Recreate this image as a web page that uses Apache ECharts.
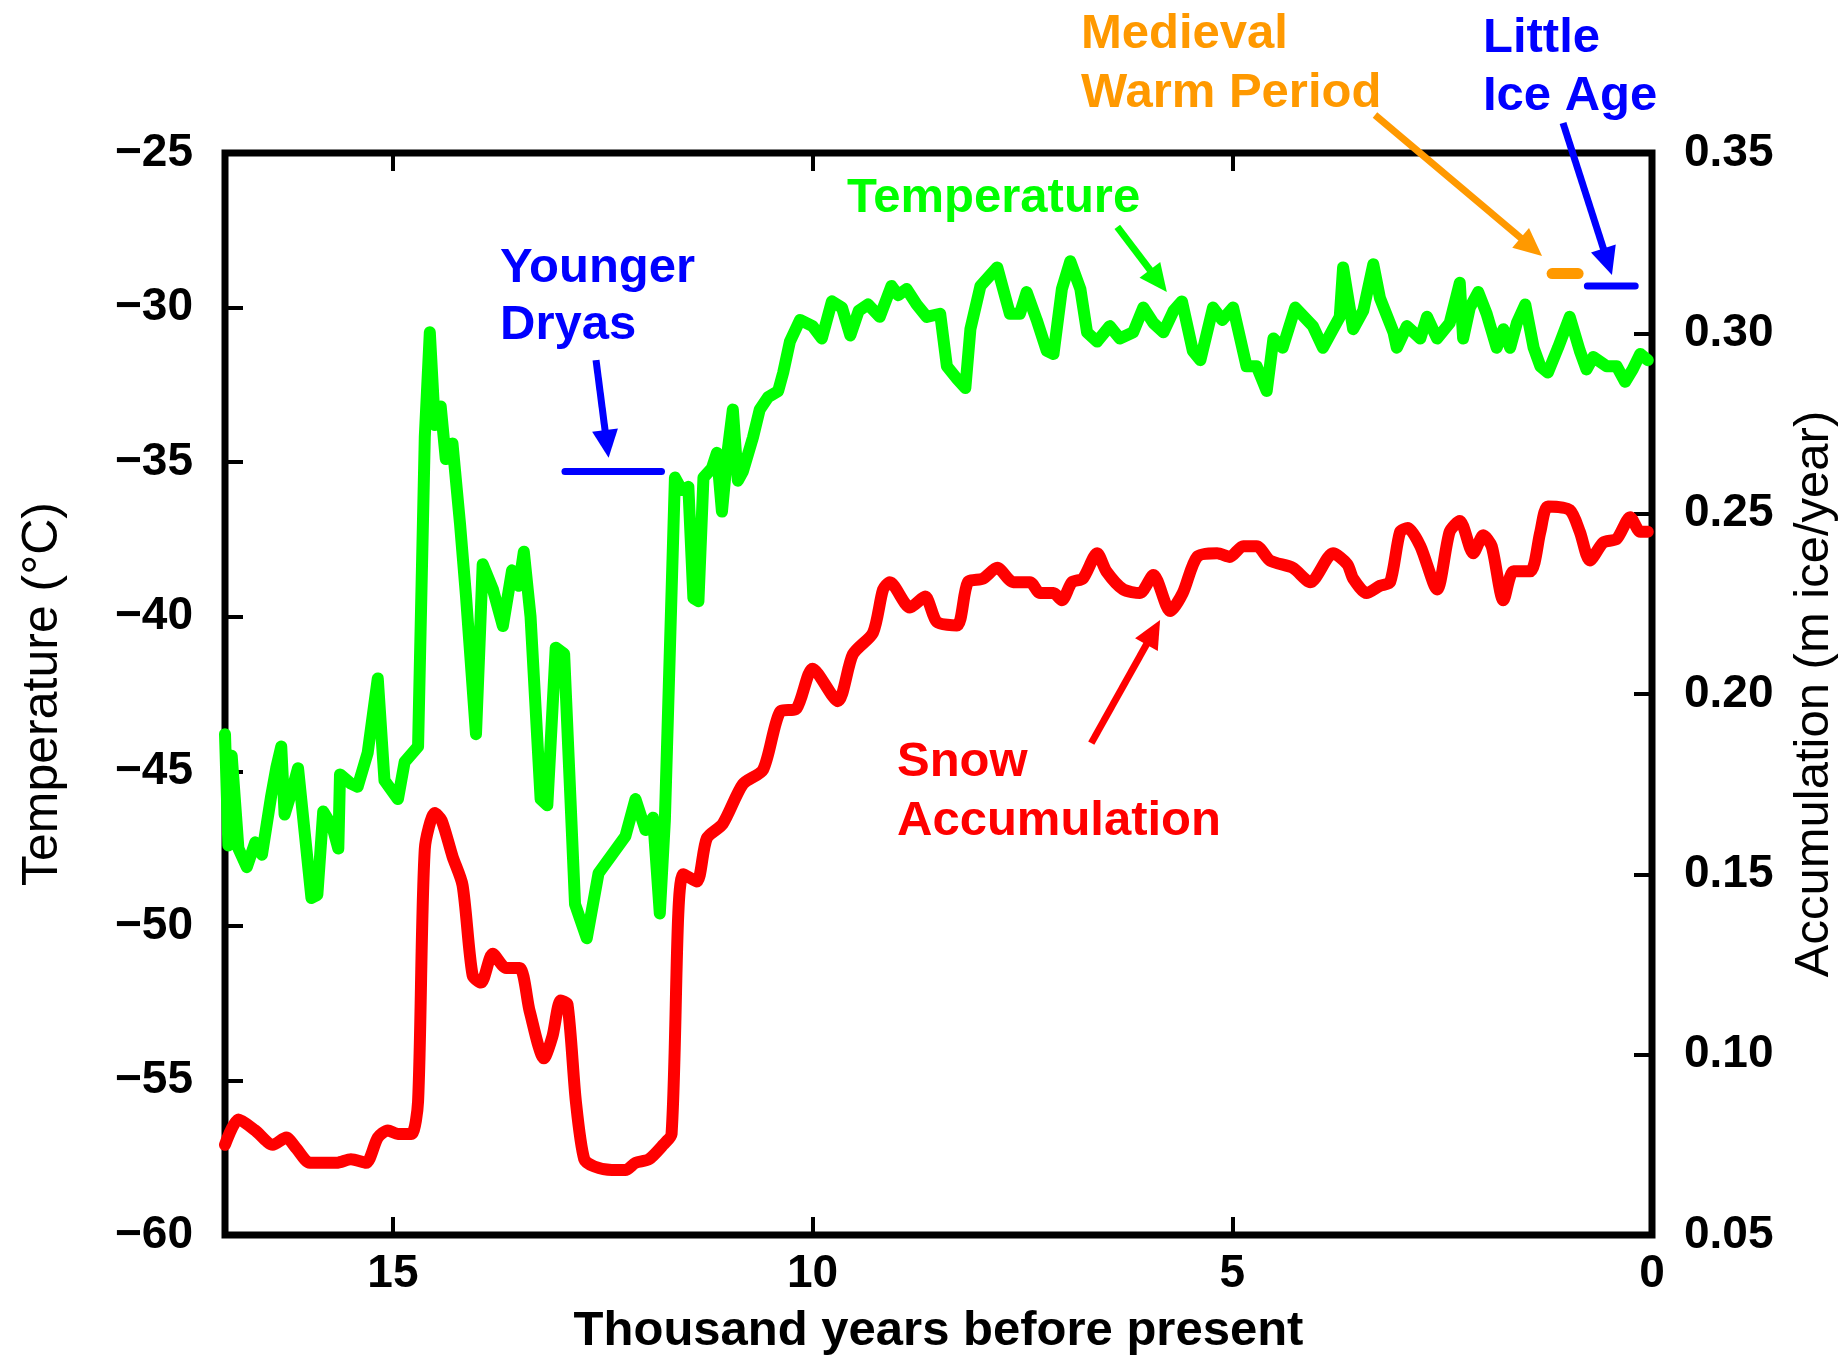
<!DOCTYPE html>
<html>
<head>
<meta charset="utf-8">
<title>Greenland ice core: temperature and snow accumulation</title>
<script src="https://cdn.jsdelivr.net/npm/echarts@6/dist/echarts.min.js"></script>
<style>
  html, body { margin: 0; padding: 0; background: #ffffff; }
  #chart { width: 1843px; height: 1361px; }
</style>
</head>
<body>
<div id="chart"></div>
<script>
// ---- Temperature record (thousand years before present, °C) ----
const tempKyr = [
  17.00, 16.96, 16.92, 16.84, 16.74, 16.64, 16.56, 16.45, 16.39, 16.33, 16.29, 16.20,
  16.13, 16.05, 15.97, 15.90, 15.83, 15.72, 15.65, 15.63, 15.50, 15.42, 15.30, 15.18,
  15.10, 14.94, 14.86, 14.70, 14.62, 14.56, 14.50, 14.43, 14.37, 14.29, 14.20, 14.13,
  14.01, 13.93, 13.81, 13.69, 13.58, 13.50, 13.44, 13.36, 13.24, 13.16, 13.06, 12.96,
  12.83, 12.69, 12.55, 12.39, 12.23, 12.11, 11.99, 11.90, 11.82, 11.76, 11.64, 11.56,
  11.48, 11.42, 11.36, 11.30, 11.20, 11.14, 11.08, 11.01, 10.95, 10.89, 10.83, 10.71,
  10.63, 10.53, 10.41, 10.35, 10.27, 10.15, 10.00, 9.89, 9.77, 9.65, 9.55, 9.45,
  9.34, 9.20, 9.06, 8.98, 8.88, 8.76, 8.64, 8.48, 8.40, 8.28, 8.18, 8.12,
  8.00, 7.80, 7.65, 7.53, 7.45, 7.33, 7.21, 7.13, 7.03, 6.93, 6.81, 6.73,
  6.61, 6.46, 6.34, 6.18, 6.06, 5.94, 5.82, 5.70, 5.60, 5.47, 5.38, 5.23,
  5.12, 4.99, 4.83, 4.71, 4.59, 4.51, 4.40, 4.25, 4.04, 3.92, 3.80, 3.72,
  3.68, 3.56, 3.44, 3.32, 3.24, 3.08, 3.04, 2.92, 2.76, 2.68, 2.56, 2.41,
  2.29, 2.25, 2.17, 2.07, 1.97, 1.85, 1.77, 1.69, 1.61, 1.51, 1.41, 1.33,
  1.24, 1.12, 0.98, 0.86, 0.78, 0.70, 0.54, 0.42, 0.32, 0.23, 0.14, 0.05
];
const tempC = [
  -43.8, -47.4, -44.5, -47.5, -48.1, -47.3, -47.7, -45.8, -44.9, -44.2, -46.4, -45.6,
  -44.9, -47.0, -49.1, -49.0, -46.3, -46.8, -47.5, -45.1, -45.4, -45.5, -44.4, -42.0,
  -45.3, -45.9, -44.7, -44.2, -34.2, -30.8, -33.8, -33.2, -34.9, -34.4, -37.0, -39.3,
  -43.8, -38.3, -39.1, -40.3, -38.5, -39.0, -37.9, -40.0, -45.9, -46.1, -41.0, -41.2,
  -49.3, -50.4, -48.3, -47.7, -47.1, -45.9, -46.9, -46.5, -49.6, -46.6, -35.5, -35.9,
  -35.8, -39.4, -39.5, -35.5, -35.2, -34.7, -36.6, -34.6, -33.3, -35.6, -35.3, -34.2,
  -33.3, -32.9, -32.7, -32.1, -31.1, -30.4, -30.6, -31.0, -29.8, -30.0, -30.9, -30.1,
  -29.9, -30.3, -29.3, -29.6, -29.4, -29.9, -30.3, -30.2, -31.9, -32.3, -32.6, -30.7,
  -29.3, -28.7, -30.2, -30.2, -29.5, -30.4, -31.4, -31.5, -29.4, -28.5, -29.4, -30.8,
  -31.1, -30.6, -31.0, -30.8, -30.0, -30.5, -30.8, -30.1, -29.8, -31.4, -31.7, -30.0,
  -30.4, -30.0, -31.9, -31.9, -32.7, -31.0, -31.3, -30.0, -30.6, -31.3, -30.7, -30.3,
  -28.7, -30.7, -30.1, -28.6, -29.7, -30.8, -31.3, -30.6, -31.0, -30.3, -31.0, -30.5,
  -29.2, -31.0, -30.0, -29.5, -30.2, -31.3, -30.7, -31.3, -30.5, -29.9, -31.3, -31.9,
  -32.1, -31.3, -30.3, -31.4, -32.0, -31.6, -31.9, -31.9, -32.4, -32.0, -31.5, -31.7
];

// ---- Snow accumulation record (thousand years before present, m ice/year) ----
const accKyr = [
  17.00, 16.84, 16.64, 16.43, 16.27, 16.15, 15.99, 15.83, 15.67, 15.50, 15.32, 15.18,
  15.06, 14.94, 14.78, 14.70, 14.62, 14.50, 14.42, 14.29, 14.17, 14.05, 13.95, 13.81,
  13.65, 13.49, 13.37, 13.20, 13.10, 13.00, 12.92, 12.82, 12.72, 12.60, 12.39, 12.23,
  12.11, 11.95, 11.78, 11.68, 11.60, 11.54, 11.38, 11.26, 11.07, 10.83, 10.59, 10.39,
  10.19, 10.00, 9.70, 9.52, 9.28, 9.16, 9.08, 8.84, 8.66, 8.52, 8.28, 8.15,
  7.97, 7.80, 7.61, 7.41, 7.29, 7.13, 7.03, 6.91, 6.78, 6.61, 6.50, 6.30,
  6.10, 5.94, 5.74, 5.59, 5.42, 5.18, 5.03, 4.87, 4.71, 4.55, 4.28, 4.07,
  3.80, 3.63, 3.56, 3.40, 3.24, 3.12, 3.00, 2.91, 2.76, 2.56, 2.41, 2.29,
  2.13, 2.01, 1.91, 1.77, 1.65, 1.45, 1.33, 1.24, 0.98, 0.86, 0.74, 0.58,
  0.42, 0.26, 0.14, 0.05
];
const accRate = [
  0.075, 0.082, 0.079, 0.075, 0.077, 0.074, 0.070, 0.070, 0.070, 0.071, 0.070, 0.077,
  0.079, 0.078, 0.078, 0.087, 0.157, 0.167, 0.165, 0.155, 0.147, 0.122, 0.120, 0.128,
  0.124, 0.124, 0.112, 0.099, 0.105, 0.115, 0.114, 0.087, 0.071, 0.069, 0.068, 0.068,
  0.070, 0.071, 0.075, 0.078, 0.139, 0.150, 0.148, 0.160, 0.164, 0.175, 0.179, 0.195,
  0.196, 0.207, 0.198, 0.211, 0.217, 0.229, 0.231, 0.224, 0.227, 0.220, 0.219, 0.231,
  0.232, 0.235, 0.231, 0.231, 0.228, 0.228, 0.226, 0.231, 0.232, 0.239, 0.234, 0.229,
  0.228, 0.233, 0.223, 0.228, 0.238, 0.239, 0.238, 0.241, 0.241, 0.237, 0.235, 0.231,
  0.239, 0.236, 0.232, 0.228, 0.230, 0.231, 0.245, 0.246, 0.241, 0.229, 0.245, 0.248,
  0.239, 0.244, 0.241, 0.226, 0.234, 0.234, 0.245, 0.252, 0.251, 0.245, 0.237, 0.242,
  0.243, 0.249, 0.245, 0.245
];

// ---- Climate periods (start / end in kyr BP, level on the temperature scale) ----
const periodNames = ['Younger Dryas', 'Medieval Warm Period', 'Little Ice Age'];
const periodStart = [12.95, 1.19, 0.77];
const periodEnd   = [11.80, 0.88, 0.20];
const periodLevel = [-35.3, -28.9, -29.3];

// ---- Axis ranges ----
const kyrRange  = [0, 17];
const tempRange = [-60, -25];
const accRange  = [0.05, 0.35];

// ---- Colours and fonts ----
const GREEN = '#00ff00';
const RED = '#ff0000';
const BLUE = '#0000ff';
const ORANGE = '#ff9900';
const FONT = '"Liberation Sans", Arial, Helvetica, sans-serif';

const periodColors = [BLUE, ORANGE, BLUE];
const periodWidths = [7, 11, 7];

// Arrows pointing from the notes to the curves and period markers,
// given as [fromKyr, fromTemp, toKyr, toTemp] on the temperature scale.
const arrowDefs = [
  { pts: [12.58, -31.70, 12.43, -34.86], color: BLUE },
  { pts: [3.30, -23.77, 1.31, -28.33], color: ORANGE },
  { pts: [1.06, -24.03, 0.477, -28.95], color: BLUE },
  { pts: [6.37, -27.39, 5.78, -29.50], color: GREEN },
  { pts: [6.68, -44.09, 5.86, -40.11], color: RED }
];

// Text notes: left x and line centres in pixels
const noteDefs = [
  { lines: ['Medieval', 'Warm Period'], x: 1081, y: [34, 93], color: ORANGE },
  { lines: ['Little', 'Ice Age'], x: 1483, y: [38, 96], color: BLUE },
  { lines: ['Temperature'], x: 847, y: [198], color: GREEN },
  { lines: ['Younger', 'Dryas'], x: 500, y: [268, 325], color: BLUE },
  { lines: ['Snow', 'Accumulation'], x: 897, y: [762, 821], color: RED }
];

const chart = echarts.init(document.getElementById('chart'), null, { renderer: 'canvas' });

const zip = (xs, ys) => xs.map((x, i) => [x, ys[i]]);

// Frame is drawn by the grid border; axes only contribute inward ticks and labels.
const hiddenLine = { show: false, onZero: false };
const tickStyle = { show: true, inside: true, length: 18, lineStyle: { color: '#000', width: 4 } };
const labelBase = { color: '#000', fontFamily: FONT, fontWeight: 'bold', fontSize: 46 };
const nameBase = { color: '#000', fontFamily: FONT, fontWeight: 'bold', fontSize: 49 };

const periodSeries = periodNames.map((name, i) => ({
  name: name,
  type: 'line',
  xAxisIndex: 0,
  yAxisIndex: 0,
  data: [[periodStart[i], periodLevel[i]], [periodEnd[i], periodLevel[i]]],
  showSymbol: false,
  silent: true,
  z: 5,
  lineStyle: { color: periodColors[i], width: periodWidths[i], cap: 'round' }
}));

const graphicTexts = [];
noteDefs.forEach(n => {
  n.lines.forEach((t, k) => {
    graphicTexts.push({
      type: 'text',
      x: n.x,
      y: n.y[k],
      silent: true,
      z: 100,
      style: {
        text: t,
        fill: n.color,
        font: 'bold 49px ' + FONT,
        align: 'left',
        verticalAlign: 'middle'
      }
    });
  });
});

chart.setOption({
  animation: false,
  backgroundColor: '#ffffff',
  grid: {
    left: 225, right: 191, top: 153, bottom: 126,
    show: true, borderColor: '#000', borderWidth: 7,
    backgroundColor: 'transparent',
    containLabel: false, outerBoundsMode: 'none'
  },
  xAxis: [
    {
      type: 'value', position: 'bottom', inverse: true,
      min: kyrRange[0], max: kyrRange[1], interval: 5,
      axisLine: hiddenLine, splitLine: { show: false },
      axisTick: tickStyle,
      axisLabel: Object.assign({}, labelBase, {
        margin: 16,
        formatter: v => (v % 5 === 0 ? String(v) : '')
      }),
      name: 'Thousand years before present',
      nameLocation: 'middle', nameGap: 72,
      nameTextStyle: nameBase
    },
    {
      type: 'value', position: 'top', inverse: true,
      min: kyrRange[0], max: kyrRange[1], interval: 5,
      axisLine: hiddenLine, splitLine: { show: false },
      axisTick: tickStyle, axisLabel: { show: false }
    }
  ],
  yAxis: [
    {
      type: 'value', position: 'left',
      min: tempRange[0], max: tempRange[1], interval: 5,
      axisLine: hiddenLine, splitLine: { show: false },
      axisTick: tickStyle,
      axisLabel: Object.assign({}, labelBase, {
        margin: 32,
        formatter: v => String(v).replace('-', '\u2212')
      }),
      name: 'Temperature (°C)',
      nameLocation: 'middle', nameGap: 157, nameRotate: 90,
      nameTextStyle: Object.assign({}, nameBase, { fontWeight: 'normal', fontSize: 50 })
    },
    {
      type: 'value', position: 'right',
      min: accRange[0], max: accRange[1], interval: 0.05,
      axisLine: hiddenLine, splitLine: { show: false },
      axisTick: tickStyle,
      axisLabel: Object.assign({}, labelBase, {
        margin: 32,
        formatter: v => v.toFixed(2)
      }),
      name: 'Accumulation (m ice/year)',
      nameLocation: 'middle', nameGap: 138, nameRotate: 90,
      nameTextStyle: Object.assign({}, nameBase, { fontWeight: 'normal', fontSize: 49 })
    }
  ],
  series: [
    {
      name: 'Snow Accumulation',
      type: 'line',
      xAxisIndex: 0,
      yAxisIndex: 1,
      data: zip(accKyr, accRate),
      showSymbol: false,
      smooth: 0.25,
      z: 3,
      lineStyle: { color: RED, width: 12, join: 'round', cap: 'round' }
    },
    {
      name: 'Temperature',
      type: 'line',
      xAxisIndex: 0,
      yAxisIndex: 0,
      data: zip(tempKyr, tempC),
      showSymbol: false,
      z: 4,
      lineStyle: { color: GREEN, width: 12, join: 'round', cap: 'round' }
    }
  ].concat(periodSeries).concat([
    {
      name: 'Arrows',
      type: 'custom',
      xAxisIndex: 0,
      yAxisIndex: 0,
      clip: false,
      silent: true,
      z: 20,
      encode: { x: [0, 2], y: [1, 3] },
      data: arrowDefs.map(a => ({ value: a.pts, itemStyle: { color: a.color } })),
      renderItem: function (params, api) {
        const p1 = api.coord([api.value(0), api.value(1)]);
        const p2 = api.coord([api.value(2), api.value(3)]);
        const color = api.visual('color');
        const ang = Math.atan2(p2[1] - p1[1], p2[0] - p1[0]);
        const c = Math.cos(ang), s = Math.sin(ang);
        const headLen = 28, headHalf = 13;
        const bx = p2[0] - headLen * c, by = p2[1] - headLen * s;
        return {
          type: 'group',
          children: [
            {
              type: 'line',
              shape: { x1: p1[0], y1: p1[1], x2: bx + 2 * c, y2: by + 2 * s },
              style: { stroke: color, lineWidth: 7 }
            },
            {
              type: 'polygon',
              shape: { points: [p2, [bx - headHalf * s, by + headHalf * c], [bx + headHalf * s, by - headHalf * c]] },
              style: { fill: color }
            }
          ]
        };
      }
    }
  ]),
  graphic: graphicTexts
});
</script>
</body>
</html>
